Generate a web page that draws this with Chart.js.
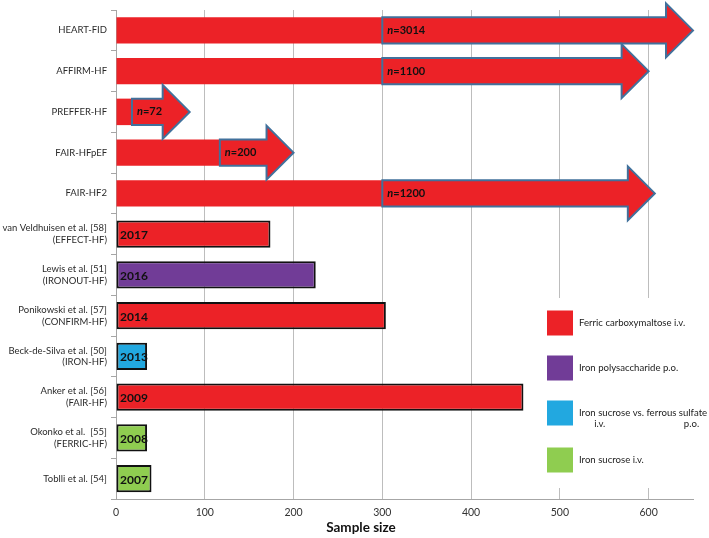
<!DOCTYPE html>
<html>
<head>
<meta charset="utf-8">
<script src="https://cdn.jsdelivr.net/npm/chart.js@4.4.1/dist/chart.umd.min.js"></script>
<style>
  body { margin: 0; background: #fff; }
</style>
</head>
<body>
<canvas id="trialsChart" width="709" height="538"></canvas>
<script>
// categories, top to bottom
const studyLabels = [
  'HEART-FID', 'AFFIRM-HF', 'PREFFER-HF', 'FAIR-HFpEF', 'FAIR-HF2',
  ['van Veldhuisen et al. [58]', '(EFFECT-HF)'],
  ['Lewis et al. [51]', '(IRONOUT-HF)'],
  ['Ponikowski et al. [57]', '(CONFIRM-HF)'],
  ['Beck-de-Silva et al. [50]', '(IRON-HF)'],
  ['Anker et al. [56]', '(FAIR-HF)'],
  ['Okonko et al.  [55]', '(FERRIC-HF)'],
  'Toblli et al. [54]',
];

// ongoing trials (arrows): planned n, where the arrow starts and where its tip is
const ongoingN = [3014, 1100, 72, 200, 1200];
const arrowStart = [300, 300, 18, 117, 300];
const arrowTip = [650, 600, 83, 200, 607];

// completed trials
const completedN = [174, 225, 304, 35, 459, 35, 40];
const completedYear = [2017, 2016, 2014, 2013, 2009, 2008, 2007];
const completedDrug = [0, 1, 0, 2, 0, 3, 3];

const treatments = ['Ferric carboxymaltose i.v.', 'Iron polysaccharide p.o.',
  'Iron sucrose vs. ferrous sulfate', 'Iron sucrose i.v.'];
const xTicks = [0, 100, 200, 300, 400, 500, 600];

const drugColors = ['#ec2227', '#713c97', '#22a8e0', '#8fcd50'];
const FONT = 'Lato, "Open Sans", sans-serif';
const nOngoing = ongoingN.length;

const baseData = studyLabels.map((l, i) => (i < nOngoing ? arrowStart[i] : null));
const doneData = studyLabels.map((l, i) => (i < nOngoing ? null : completedN[i - nOngoing]));
const doneColors = studyLabels.map((l, i) => (i < nOngoing ? '#fff' : drugColors[completedDrug[i - nOngoing]]));

// arrows + text inside the bars
const arrowPlugin = {
  id: 'arrows',
  afterDatasetsDraw(chart) {
    const { ctx } = chart;
    const x = chart.scales.x;
    const meta0 = chart.getDatasetMeta(0);
    ctx.save();
    ongoingN.forEach((n, i) => {
      const bar = meta0.data[i];
      const yc = bar.y;
      const hb = bar.height / 2;
      const hh = 27;
      const x0 = x.getPixelForValue(arrowStart[i]);
      const xt = x.getPixelForValue(arrowTip[i]);
      const xb = xt - 27;
      ctx.beginPath();
      ctx.moveTo(x0, yc - hb);
      ctx.lineTo(xb, yc - hb);
      ctx.lineTo(xb, yc - hh);
      ctx.lineTo(xt, yc);
      ctx.lineTo(xb, yc + hh);
      ctx.lineTo(xb, yc + hb);
      ctx.lineTo(x0, yc + hb);
      ctx.closePath();
      ctx.fillStyle = drugColors[0];
      ctx.fill();
      ctx.lineWidth = 2;
      ctx.strokeStyle = '#41719c';
      ctx.stroke();

      ctx.fillStyle = '#111';
      ctx.textBaseline = 'middle';
      ctx.textAlign = 'left';
      ctx.font = 'italic bold 11px ' + FONT;
      ctx.fillText('n', x0 + 5, yc);
      const w = ctx.measureText('n').width;
      ctx.font = 'bold 11px ' + FONT;
      ctx.fillText('=' + n, x0 + 5 + w, yc);
    });

    const meta1 = chart.getDatasetMeta(1);
    completedYear.forEach((yr, j) => {
      const bar = meta1.data[j + nOngoing];
      ctx.fillStyle = '#111';
      ctx.font = 'bold 12px ' + FONT;
      ctx.textBaseline = 'middle';
      ctx.fillText(String(yr), x.getPixelForValue(0) + 4, bar.y + 1);
    });
    ctx.restore();
  },
  afterDraw(chart) {
    const { ctx } = chart;
    const x = chart.scales.x;
    ctx.save();
    // axis title
    ctx.fillStyle = '#111';
    ctx.font = 'bold 13.5px ' + FONT;
    ctx.textAlign = 'center';
    ctx.textBaseline = 'middle';
    ctx.fillText('Sample size', x.getPixelForValue(276), 528);

    // legend box
    ctx.fillStyle = '#fff';
    ctx.fillRect(530, 298, 178, 190);
    const rowsY = [323, 368, 413, 460];
    ctx.textAlign = 'left';
    ctx.font = '9.6px ' + FONT;
    treatments.forEach((t, i) => {
      ctx.fillStyle = drugColors[i];
      ctx.fillRect(547, rowsY[i] - 12.5, 26, 25);
      ctx.fillStyle = '#222';
      ctx.fillText(t, 579, rowsY[i]);
    });
    // second line of the third entry
    const off1 = ctx.measureText('Iron ').width;
    const off2 = ctx.measureText('Iron sucrose vs. ferrous ').width;
    ctx.fillText('i.v.', 579 + off1 - 4, rowsY[2] + 11);
    ctx.fillText('p.o.', 579 + off2 + 5, rowsY[2] + 11);
    ctx.restore();
  },
};

const ctx = document.querySelector('#trialsChart').getContext('2d');
const trialsChart = new Chart(ctx, {
  type: 'bar',
  data: {
    labels: studyLabels,
    datasets: [{
      label: 'Ongoing',
      data: baseData,
      backgroundColor: drugColors[0],
      borderWidth: 0,
      grouped: false,
      barPercentage: 0.65,
      categoryPercentage: 1,
    }, {
      label: 'Completed',
      data: doneData,
      backgroundColor: doneColors,
      borderColor: '#111',
      borderWidth: 2,
      borderSkipped: false,
      grouped: false,
      barPercentage: 0.67,
      categoryPercentage: 1,
    }],
  },
  options: {
    indexAxis: 'y',
    responsive: false,
    animation: false,
    layout: { padding: { top: 10, right: 16, left: 0, bottom: 0 } },
    plugins: { legend: { display: false }, tooltip: { enabled: false } },
    scales: {
      x: {
        min: 0,
        max: 650,
        ticks: { stepSize: 100, color: '#333', font: { size: 10.5, family: FONT }, padding: 7 },
        afterBuildTicks: (s) => { s.ticks = xTicks.map((v) => ({ value: v })); },
        grid: { color: '#bdbdbd', drawTicks: false },
        border: { color: '#a6a6a6' },
        afterFit: (s) => { s.height = 39; },
      },
      y: {
        grid: { offset: true, drawOnChartArea: false, tickLength: 5, color: '#a6a6a6' },
        border: { color: '#a6a6a6' },
        ticks: { color: '#2a2a2a', font: { size: 9.5, family: FONT, lineHeight: 1.25 }, padding: 4 },
        afterFit: (s) => { s.width = 116; },
      },
    },
  },
  plugins: [arrowPlugin],
});
</script>
</body>
</html>
